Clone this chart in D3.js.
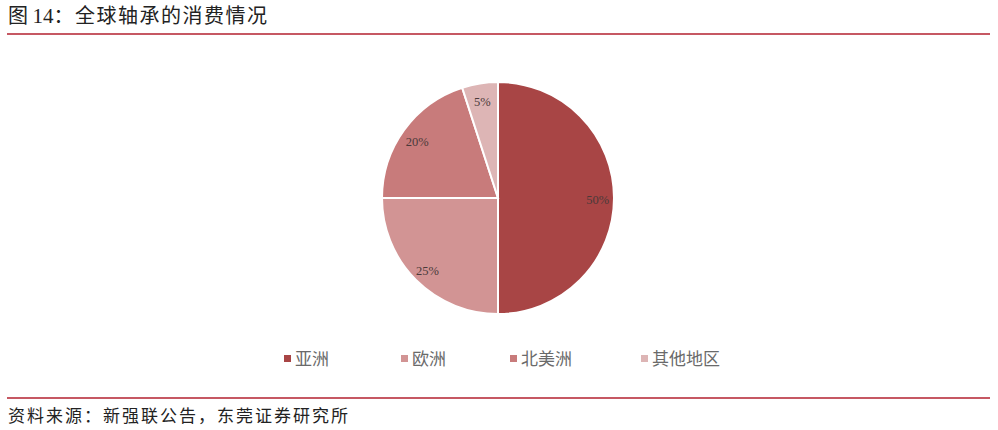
<!DOCTYPE html>
<html><head><meta charset="utf-8">
<script src="https://cdn.jsdelivr.net/npm/d3@7"></script>
<style>body{margin:0;background:#fff;}svg{display:block;}</style>
</head><body>
<svg id="c" width="998" height="430"></svg>
<script>
const categories = ["亚洲", "欧洲", "北美洲", "其他地区"];
const values = [50, 25, 20, 5];
const colors = ["#A84545", "#D29494", "#C87B7B", "#DDB5B5"];
const titlePrefix = "图 ";
const titleNum = "14";
const titleText = "：全球轴承的消费情况";
const source = "资料来源：新强联公告，东莞证券研究所";

const svg = d3.select("#c");
const cjk = "'Noto Sans CJK SC', 'Noto Sans', sans-serif";
const serif = "'Liberation Serif', 'DejaVu Serif', serif";

const t = svg.append("text").attr("x", 8).attr("y", 23).attr("font-family", cjk)
  .attr("font-size", 20).attr("fill", "#222");
t.append("tspan").text(titlePrefix);
t.append("tspan").attr("font-family", serif).attr("font-size", 21).text(titleNum);
t.append("tspan").attr("letter-spacing", 1.5).text(titleText);

svg.append("line").attr("x1", 7).attr("x2", 990).attr("y1", 34).attr("y2", 34)
  .attr("stroke", "#B3202F").attr("stroke-width", 1.6);
svg.append("line").attr("x1", 7).attr("x2", 990).attr("y1", 398).attr("y2", 398)
  .attr("stroke", "#B3202F").attr("stroke-width", 1.6);
svg.append("text").attr("x", 8).attr("y", 422).attr("font-family", cjk)
  .attr("font-size", 17).attr("letter-spacing", 2).attr("fill", "#222").text(source);

const cx = 498, cy = 198, r = 116;
const pie = d3.pie().sort(null).value(d => d)(values);
const arc = d3.arc().innerRadius(0).outerRadius(r);
const labelArc = d3.arc().innerRadius(r * 0.86).outerRadius(r * 0.86);
const g = svg.append("g").attr("transform", `translate(${cx},${cy})`);
g.selectAll("path").data(pie).join("path")
  .attr("d", arc).attr("fill", (d, i) => colors[i])
  .attr("stroke", "#fff").attr("stroke-width", 2);
g.selectAll("text").data(pie).join("text")
  .attr("transform", d => `translate(${labelArc.centroid(d)})`)
  .attr("text-anchor", "middle").attr("dy", "0.5em")
  .attr("font-family", serif)
  .attr("font-size", 12.5).attr("fill", "#4a3a3a")
  .text(d => d.data + "%");

const legendX = [284, 401, 510, 641];
const lg = svg.append("g");
categories.forEach((c, i) => {
  lg.append("rect").attr("x", legendX[i]).attr("y", 355).attr("width", 7).attr("height", 7)
    .attr("fill", colors[i]);
  lg.append("text").attr("x", legendX[i] + 11).attr("y", 365).attr("font-family", cjk)
    .attr("font-size", 17).attr("fill", "#6a6a6a").text(c);
});
</script>
</body></html>
